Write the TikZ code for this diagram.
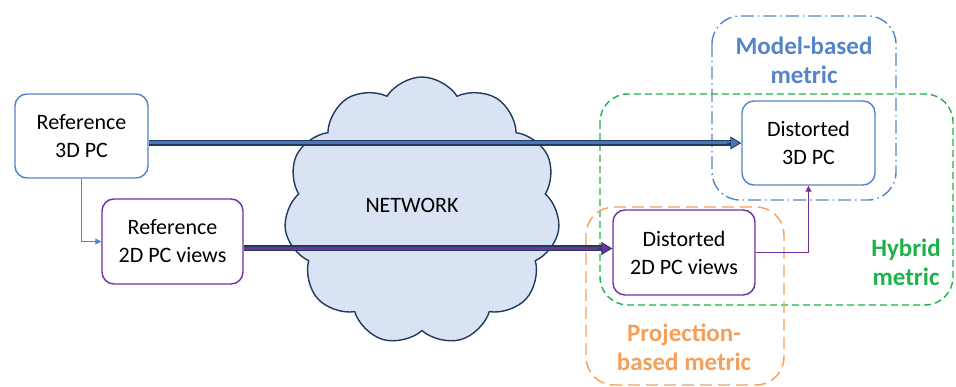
\documentclass[tikz,border=0pt]{standalone}
\usepackage{fontspec}
\setmainfont{Carlito}
\usetikzlibrary{shapes.symbols,arrows.meta,calc}
\definecolor{boxblue}{HTML}{5584C4}
\definecolor{boxpurple}{HTML}{7030A0}
\definecolor{navy}{HTML}{223A5E}
\definecolor{arrblue}{HTML}{4A76BA}
\definecolor{cloudfill}{HTML}{DAE3F3}
\definecolor{cloudline}{HTML}{1F3A5F}
\definecolor{modelblue}{HTML}{5585C8}
\definecolor{hybgreen}{HTML}{1DB24B}
\definecolor{projorange}{HTML}{F5A05A}
\begin{document}
\begin{tikzpicture}[x=1pt,y=-1pt,
  every node/.style={font=\fontsize{22}{28}\selectfont},
  pcbox/.style={draw, line width=1.4pt, rounded corners=12pt, fill=white, align=center, inner sep=0pt},
  thinconn/.style={line width=1.1pt},
  region/.style={line width=1.4pt, rounded corners=28pt},
  lbl/.style={font=\fontsize{25}{29}\bfseries\selectfont, align=center}
]
\useasboundingbox (0,0) rectangle (956,387);

% cloud
\node[cloud, cloud puffs=11, cloud puff arc=115, aspect=1.02, draw=cloudline, fill=cloudfill,
      line width=1.4pt, minimum width=276pt, minimum height=268pt, inner sep=0pt] (net) at (422,211) {};
\node (nettext) at (412,205) {NETWORK};

% regions
\draw[region, draw=modelblue, dash pattern=on 13pt off 4pt on 1.5pt off 4pt] (712,16) rectangle (896,200);
\draw[region, draw=hybgreen, dash pattern=on 7pt off 4pt] (600,94) rectangle (953,305);
\draw[region, draw=projorange, dash pattern=on 12pt off 6pt] (586,207) rectangle (784,385);

% labels
\node[lbl, text=modelblue] (lmodel) at (804,60) {Model-based\\metric};
\node[lbl, text=hybgreen] (lhyb) at (906,262) {Hybrid\\metric};
\node[lbl, text=projorange] (lproj) at (684,347) {Projection-\\based metric};

% boxes
\node[pcbox, draw=boxblue, minimum width=133pt, minimum height=84pt] (ref3d) at (81.5,136) {Reference\\3D PC};
\node[pcbox, draw=boxpurple, minimum width=141pt, minimum height=85pt] (ref2d) at (172.5,241.5) {Reference\\2D PC views};
\node[pcbox, draw=boxblue, minimum width=133pt, minimum height=84pt] (dis3d) at (808.5,143) {Distorted\\3D PC};
\node[pcbox, draw=boxpurple, minimum width=142pt, minimum height=85pt] (dis2d) at (684,252.5) {Distorted\\2D PC views};

% thin connectors
\draw[thinconn, draw=boxblue, -{Triangle[length=6pt,width=6pt,fill=boxblue]}] (ref3d.south) |- (ref2d.west);
\draw[thinconn, draw=boxpurple, -{Triangle[length=6pt,width=6pt,fill=boxpurple]}] (dis2d.east) -| (dis3d.south);

% block arrows
\coordinate (a1s) at (ref3d.east |- dis3d.west);
\draw[line width=6pt, draw=navy, shorten >=9pt] (a1s) -- (dis3d.west);
\draw[line width=3pt, draw=arrblue, shorten >=9pt] (a1s) -- (dis3d.west);
\draw[line width=0.9pt, draw=navy, -{Triangle[length=11pt,width=13pt,fill=arrblue]}] ([xshift=-14pt]dis3d.west) -- (dis3d.west);

\coordinate (a2s) at ([yshift=-7pt]ref2d.east);
\coordinate (a2e) at (dis2d.west |- a2s);
\draw[line width=6pt, draw=navy, shorten >=9pt] (a2s) -- (a2e);
\draw[line width=3pt, draw=boxpurple, shorten >=9pt] (a2s) -- (a2e);
\draw[line width=0.9pt, draw=navy, -{Triangle[length=11pt,width=13pt,fill=boxpurple]}] ([xshift=-14pt]a2e) -- (a2e);
\end{tikzpicture}
\end{document}
